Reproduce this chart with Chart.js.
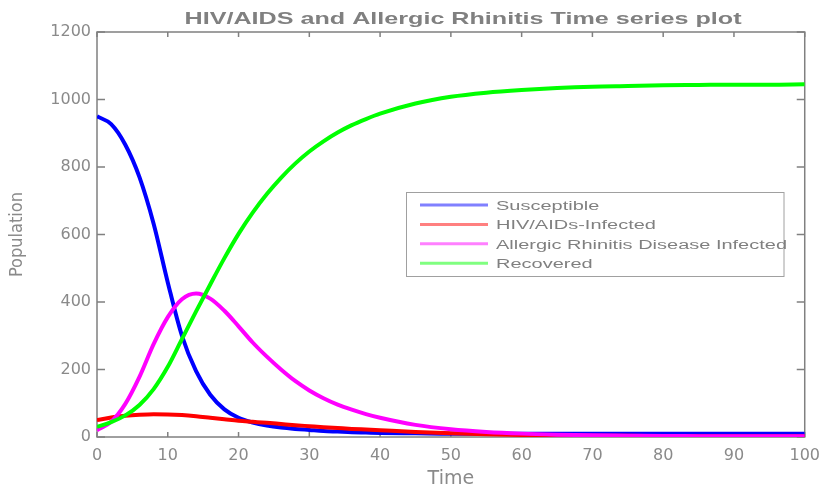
<!DOCTYPE html>
<html>
<head>
<meta charset="utf-8">
<script src="https://cdn.jsdelivr.net/npm/chart.js@4.4.0/dist/chart.umd.min.js"></script>
<style>
  html, body { margin: 0; padding: 0; background: #fff; }
</style>
</head>
<body>
<canvas id="chart" width="829" height="491"></canvas>
<script>
// values
const chartTitle = 'HIV/AIDS and Allergic Rhinitis Time series plot';
const timePoints = [0, 2, 4, 6, 8, 10, 12, 14, 16, 18, 20, 22, 24, 26, 28, 30, 32, 34, 36, 38, 40,
  45, 50, 55, 60, 65, 70, 75, 80, 85, 90, 95, 100];
const susceptible = [950, 927, 866, 770, 632, 458, 300, 195, 125, 82, 57, 43, 34, 28, 24, 21, 18, 16, 14, 13, 12,
  11, 10, 10, 10, 10, 10, 10, 10, 10, 10, 10, 10];
const hivInfected = [50, 58, 63, 66, 67.5, 67, 65, 61.5, 57, 52.5, 48, 45, 42, 38.5, 35, 32, 29, 26.5, 24, 22, 20,
  15, 11, 8, 6, 5, 4, 3.5, 3, 2.5, 2, 2, 2];
const allergicInfected = [20, 45, 98, 178, 275, 355, 408, 425, 410, 374, 328, 280, 238, 200, 166, 138, 115, 96, 81, 68, 57,
  36, 23, 15, 10, 7, 5, 4, 3, 2.5, 2, 2, 2];
const recovered = [30, 44, 64, 95, 142, 208, 290, 372, 452, 530, 602, 665, 720, 768, 810, 846, 876, 902, 924, 942, 958,
  988, 1008, 1020, 1028, 1034, 1038, 1040, 1042, 1043, 1044, 1044, 1045];
const yTicks = [0, 200, 400, 600, 800, 1000, 1200];
const xTicks = [0, 10, 20, 30, 40, 50, 60, 70, 80, 90, 100];

const gray = '#808080';
const labelGray = '#8a8a8a';

function toPoints(values) {
  return timePoints.map((t, i) => ({ x: t, y: values[i] }));
}

const series = [
  { label: 'Susceptible', data: susceptible, color: '#0000ff', legendColor: '#8080ff', order: 3 },
  { label: 'HIV/AIDs-Infected', data: hivInfected, color: '#ff0000', legendColor: '#ff8080', order: 2 },
  { label: 'Allergic Rhinitis Disease Infected', data: allergicInfected, color: '#ff00ff', legendColor: '#ff80ff', order: 1 },
  { label: 'Recovered', data: recovered, color: '#00ff00', legendColor: '#80ff80', order: 0 }
];

// draws text widened horizontally, the picture is a stretched matlab export
function wideText(ctx, text, x, y, sx, align) {
  ctx.save();
  ctx.translate(x, y);
  ctx.scale(sx, 1);
  ctx.textAlign = align || 'left';
  ctx.fillText(text, 0, 0);
  ctx.restore();
}

// matlab style box with inward ticks, title and legend
const axesBox = {
  id: 'axesBox',
  beforeDatasetsDraw(chart) {
    const { ctx, chartArea: a, scales } = chart;
    ctx.save();
    ctx.strokeStyle = gray;
    ctx.lineWidth = 1.5;
    ctx.strokeRect(a.left, a.top, a.right - a.left, a.bottom - a.top);
    ctx.beginPath();
    xTicks.forEach(v => {
      const px = scales.x.getPixelForValue(v);
      ctx.moveTo(px, a.bottom); ctx.lineTo(px, a.bottom - 5);
      ctx.moveTo(px, a.top); ctx.lineTo(px, a.top + 5);
    });
    yTicks.forEach(v => {
      const py = scales.y.getPixelForValue(v);
      ctx.moveTo(a.left, py); ctx.lineTo(a.left + 8, py);
      ctx.moveTo(a.right, py); ctx.lineTo(a.right - 8, py);
    });
    ctx.stroke();
    ctx.restore();
  },
  afterDraw(chart) {
    const { ctx } = chart;
    ctx.save();
    // title
    ctx.font = 'bold 17px "Liberation Sans", Arial, sans-serif';
    ctx.fillStyle = gray;
    const tw = ctx.measureText(chartTitle).width;
    wideText(ctx, chartTitle, 463, 23.5, 557 / tw, 'center');

    // legend
    const box = { x: 406.5, y: 192.5, w: 377.5, h: 84 };
    ctx.fillStyle = '#fff';
    ctx.fillRect(box.x, box.y, box.w, box.h);
    ctx.strokeStyle = '#a0a0a0';
    ctx.lineWidth = 1;
    ctx.strokeRect(box.x, box.y, box.w, box.h);
    ctx.font = '12.5px "Liberation Sans", Arial, sans-serif';
    const longest = Math.max(...series.map(s => ctx.measureText(s.label).width));
    const sx = 291 / longest;
    series.forEach((s, i) => {
      const base = 210 + i * 19.4;
      ctx.strokeStyle = s.legendColor;
      ctx.lineWidth = 3;
      ctx.beginPath();
      ctx.moveTo(420, base - 5);
      ctx.lineTo(488, base - 5);
      ctx.stroke();
      ctx.fillStyle = gray;
      wideText(ctx, s.label, 496, base, sx, 'left');
    });
    ctx.restore();
  }
};

new Chart(document.getElementById('chart'), {
  type: 'line',
  data: {
    datasets: series.map(s => ({
      label: s.label,
      data: toPoints(s.data),
      borderColor: s.color,
      backgroundColor: s.color,
      borderWidth: 4,
      pointRadius: 0,
      cubicInterpolationMode: 'monotone',
      fill: false,
      order: s.order
    }))
  },
  options: {
    responsive: false,
    animation: false,
    layout: { padding: { top: 32, right: 24, left: 0, bottom: 0 } },
    plugins: {
      legend: { display: false },
      title: { display: false },
      tooltip: { enabled: false }
    },
    scales: {
      x: {
        type: 'linear',
        min: 0,
        max: 100,
        afterFit: s => { s.height = 54; },
        grid: { display: false, drawTicks: false },
        border: { display: false },
        ticks: {
          stepSize: 10,
          padding: 9,
          color: labelGray,
          font: { family: '"DejaVu Sans", sans-serif', size: 16 },
          callback: v => String(v)
        },
        title: {
          display: true,
          text: 'Time',
          color: labelGray,
          font: { family: '"DejaVu Sans", sans-serif', size: 19 },
          padding: { top: 0, bottom: 1 }
        }
      },
      y: {
        min: 0,
        max: 1200,
        afterFit: s => { s.width = 97; },
        grid: { display: false, drawTicks: false },
        border: { display: false },
        ticks: {
          stepSize: 200,
          padding: 6,
          color: labelGray,
          font: { family: '"DejaVu Sans", sans-serif', size: 16 },
          callback: v => String(v)
        },
        title: {
          display: true,
          text: 'Population',
          color: labelGray,
          font: { family: '"Liberation Sans Narrow", "DejaVu Sans Condensed", sans-serif', size: 18 },
          padding: { top: 7, bottom: 0 }
        }
      }
    }
  },
  plugins: [axesBox]
});
</script>
</body>
</html>
